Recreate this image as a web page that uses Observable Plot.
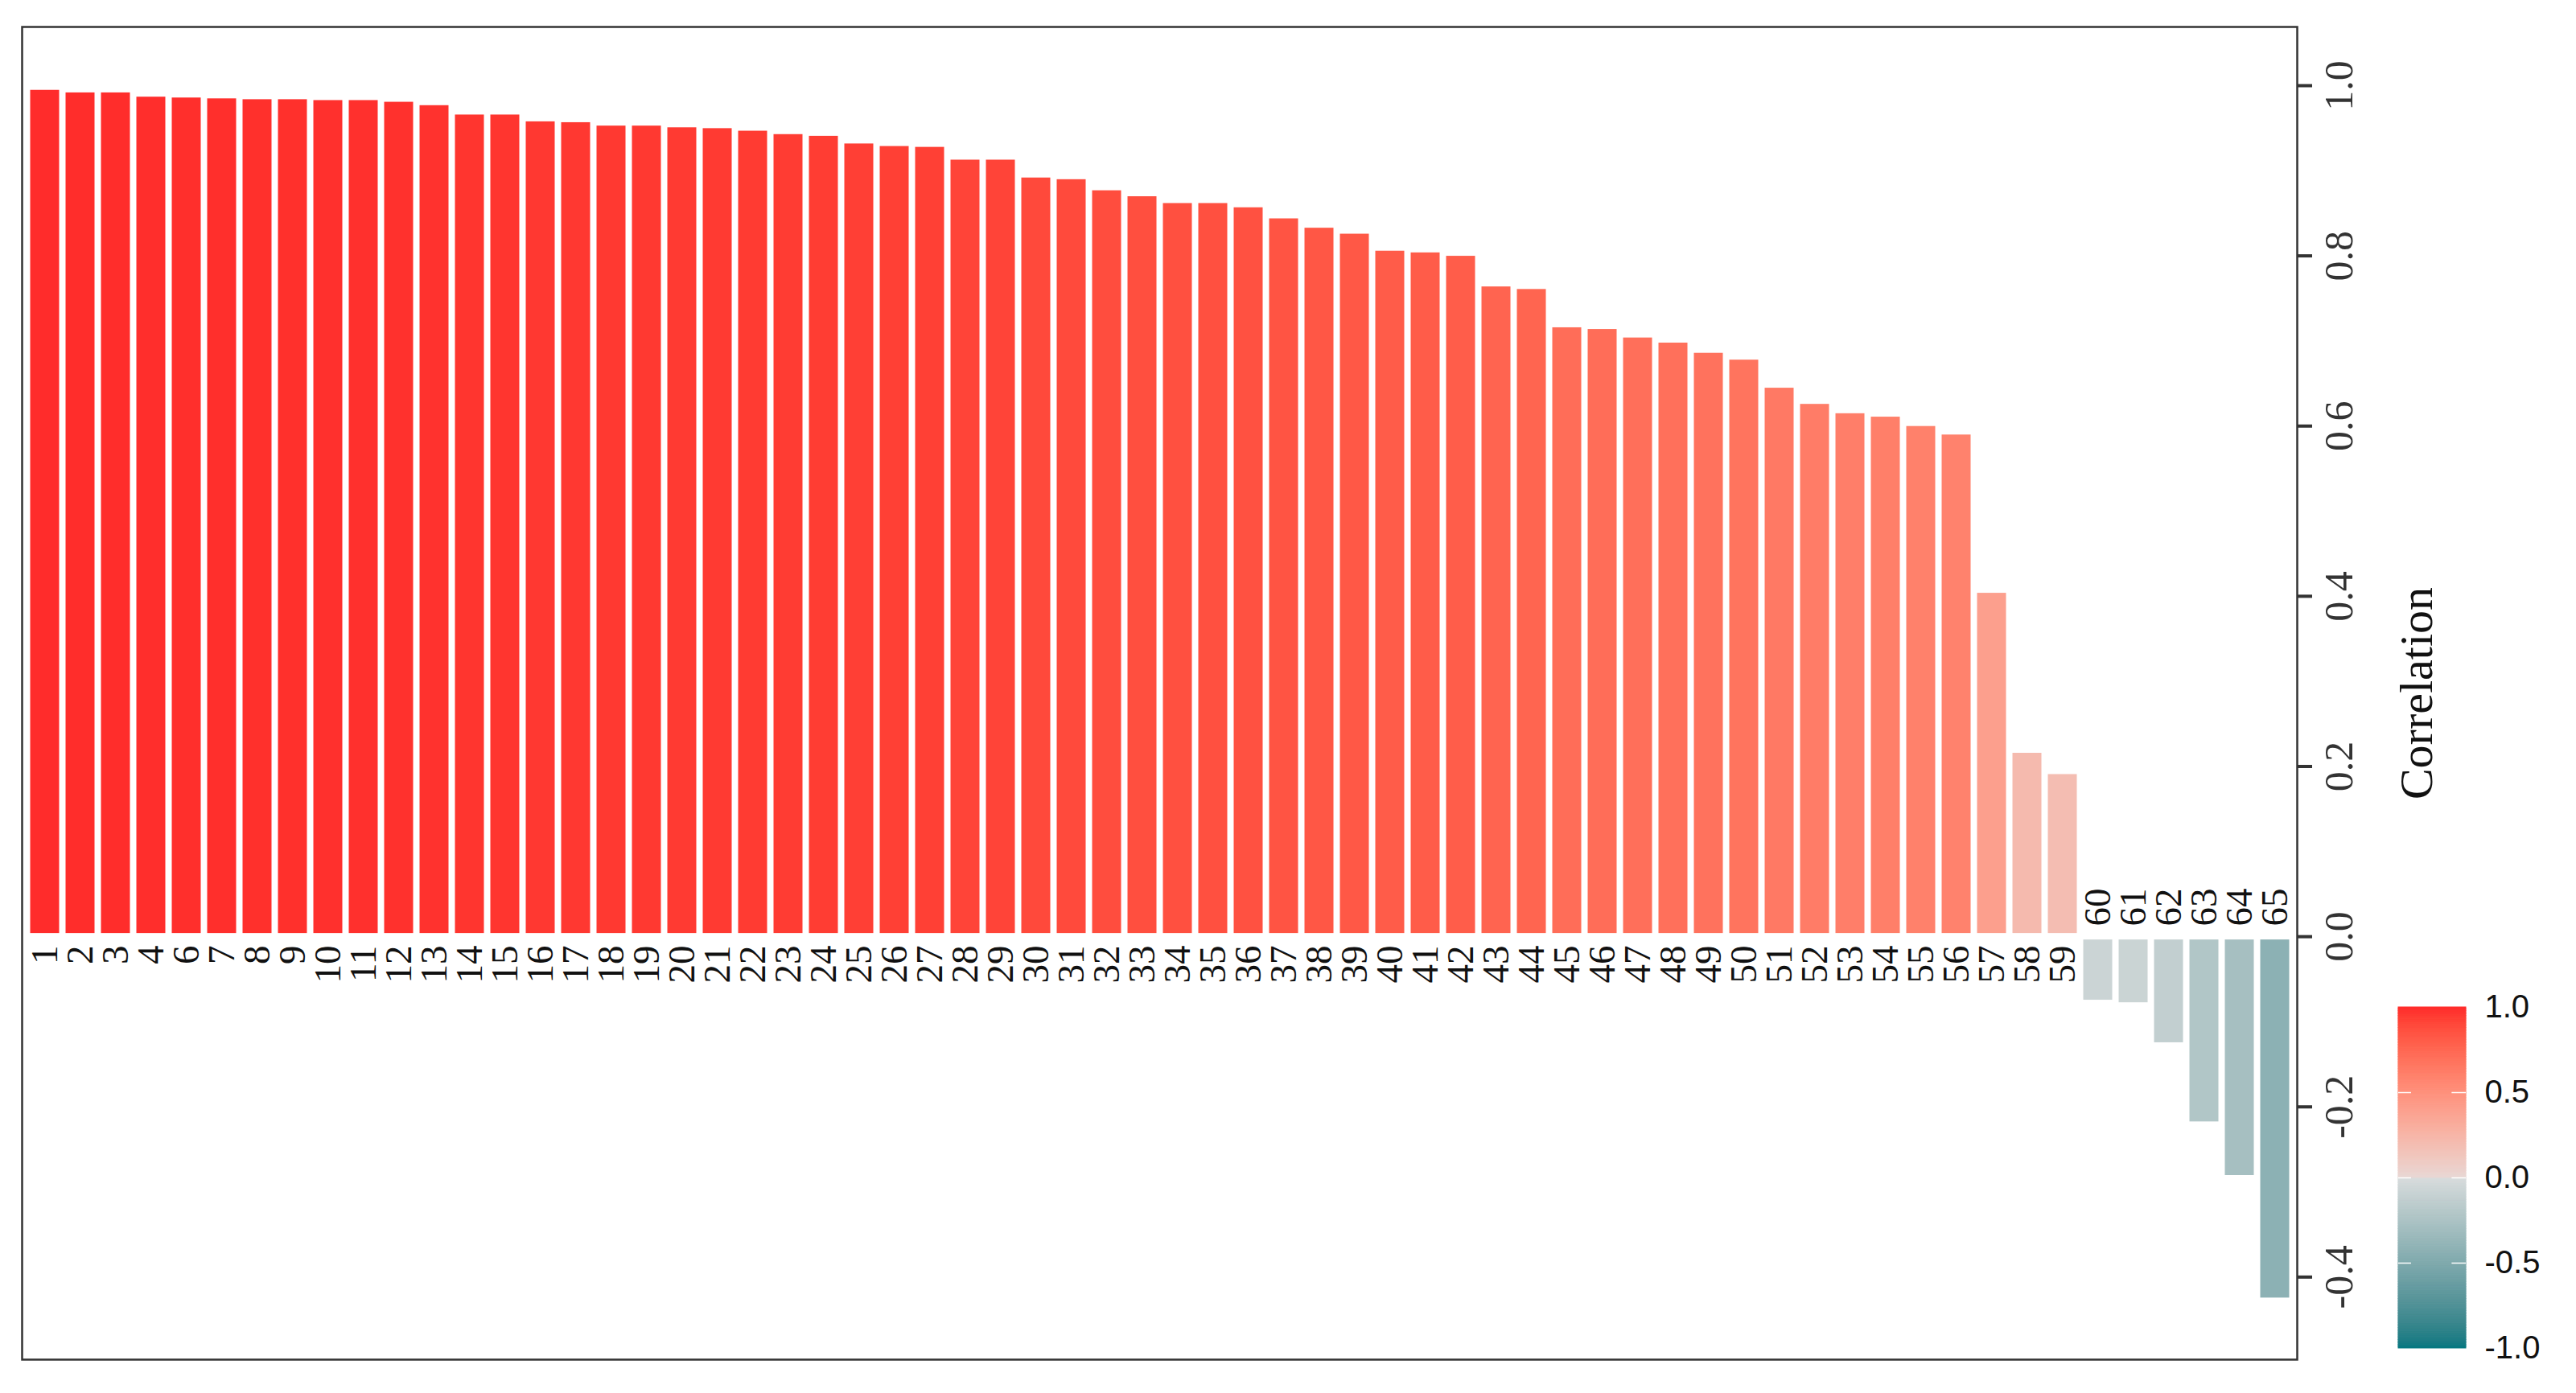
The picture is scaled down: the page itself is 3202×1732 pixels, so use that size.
<!DOCTYPE html>
<html>
<head>
<meta charset="utf-8">
<script src="https://cdn.jsdelivr.net/npm/d3@7"></script>
<script src="https://cdn.jsdelivr.net/npm/@observablehq/plot@0.6"></script>
<style>
  html, body { margin: 0; padding: 0; background: #ffffff; }
  #wrap { position: relative; width: 3202px; height: 1732px; overflow: hidden; }
  #legend { position: absolute; left: 2960px; top: 1230px; }
</style>
</head>
<body>
<div id="wrap"><div id="main"></div><div id="legend"></div></div>
<script>
// Category labels (note: "5" is absent in the original)
const labels = ["1","2","3","4","6","7","8","9","10","11","12","13","14","15","16","17","18","19","20",
  "21","22","23","24","25","26","27","28","29","30","31","32","33","34","35","36","37","38","39","40",
  "41","42","43","44","45","46","47","48","49","50","51","52","53","54","55","56","57","58","59","60",
  "61","62","63","64","65"];

// Correlation values
const values = [0.996,0.993,0.993,0.988,0.987,0.986,0.985,0.985,0.984,0.984,0.982,0.978,0.967,0.967,
  0.959,0.958,0.954,0.954,0.952,0.951,0.948,0.944,0.942,0.933,0.930,0.929,0.914,0.914,0.893,0.891,
  0.878,0.871,0.863,0.863,0.858,0.845,0.834,0.827,0.807,0.805,0.801,0.765,0.762,0.717,0.715,0.705,
  0.699,0.687,0.679,0.646,0.627,0.616,0.612,0.601,0.591,0.405,0.217,0.192,-0.076,-0.079,-0.126,
  -0.219,-0.282,-0.426];

// Axis ticks
const yTicks = [1.0, 0.8, 0.6, 0.4, 0.2, 0.0, -0.2, -0.4];
const yTickLabels = ["1.0","0.8","0.6","0.4","0.2","0.0","-0.2","-0.4"];
const legendTicks = [1.0, 0.5, 0.0, -0.5, -1.0];
const legendTickLabels = ["1.0","0.5","0.0","-0.5","-1.0"];

// Gradient colours: low, mid (negative side), mid (positive side), high
const gradientStops = [-1, 0, 0, 1];
const gradientColors = ["#007880", "#d8dcdc", "#e8d8d5", "#ff2a2a"];

const data = labels.map((label, i) => ({label, value: values[i]}));
const pos = data.filter(d => d.value >= 0);
const neg = data.filter(d => d.value < 0);

const colorOpts = {type: "linear", domain: gradientStops, range: gradientColors, interpolate: "lab"};

const chart = Plot.plot({
  width: 3202,
  height: 1732,
  marginLeft: 27,
  marginRight: 347,
  marginTop: 33,
  marginBottom: 42,
  style: {fontFamily: "Liberation Serif", background: "white"},
  x: {type: "band", domain: labels, paddingInner: 0.12, paddingOuter: 0.16, axis: null},
  y: {domain: [-0.497, 1.069], axis: null},
  color: colorOpts,
  marks: [
    Plot.barY(pos, {x: "label", y: "value", fill: "value", stroke: "white", strokeWidth: 3, insetBottom: 2.5}),
    Plot.barY(neg, {x: "label", y: "value", fill: "value", stroke: "white", strokeWidth: 3, insetTop: 2.5}),
    Plot.text(pos, {x: "label", y: 0, text: "label", rotate: -90, textAnchor: "end", lineAnchor: "middle",
      dy: 11, fontSize: 47, fill: "#111"}),
    Plot.text(neg, {x: "label", y: 0, text: "label", rotate: -90, textAnchor: "start", lineAnchor: "middle",
      dy: -13, fontSize: 47, fill: "#111"}),
    Plot.frame({stroke: "#333", strokeWidth: 2.5}),
    Plot.axisY({anchor: "right", ticks: yTicks, tickSize: 18, tickFormat: () => "", stroke: "#333",
      strokeWidth: 4, label: null}),
    Plot.text(yTicks, {y: d => d, frameAnchor: "right", dx: 52, rotate: -90, text: (d, i) => yTickLabels[i],
      fontSize: 50, fill: "#333", textAnchor: "middle", lineAnchor: "middle"}),
    Plot.text(["Correlation"], {frameAnchor: "right", dx: 149, rotate: -90, text: d => d,
      fontSize: 58, fill: "#111", textAnchor: "middle", lineAnchor: "middle"})
  ]
});
document.getElementById("main").appendChild(chart);

// Vertical colour bar legend
const nSteps = 200;
const stepSize = 2 / nSteps;
const steps = d3.range(nSteps).map(i => -1 + i * stepSize);
const inner = legendTicks.filter(d => d > -1 && d < 1);

const legend = Plot.plot({
  width: 242,
  height: 480,
  marginLeft: 21,
  marginRight: 137,
  marginTop: 22,
  marginBottom: 34,
  style: {fontFamily: "Liberation Sans", background: "transparent"},
  x: {domain: [0, 1], axis: null},
  y: {domain: [-1, 1], axis: null},
  color: colorOpts,
  marks: [
    Plot.rect(steps, {x1: 0, x2: 1, y1: d => d, y2: d => d + stepSize, fill: d => d + stepSize / 2,
      stroke: d => d + stepSize / 2, strokeWidth: 1}),
    Plot.ruleY(inner, {x1: 0, x2: 0.19, stroke: "white", strokeWidth: 1.5}),
    Plot.ruleY(inner, {x1: 0.79, x2: 1, stroke: "white", strokeWidth: 1.5}),
    Plot.axisY({anchor: "right", ticks: legendTicks, tickSize: 0, tickPadding: 23,
      tickFormat: d => legendTickLabels[legendTicks.indexOf(d)], fontSize: 40, fill: "#111", label: null})
  ]
});
document.getElementById("legend").appendChild(legend);
</script>
</body>
</html>
